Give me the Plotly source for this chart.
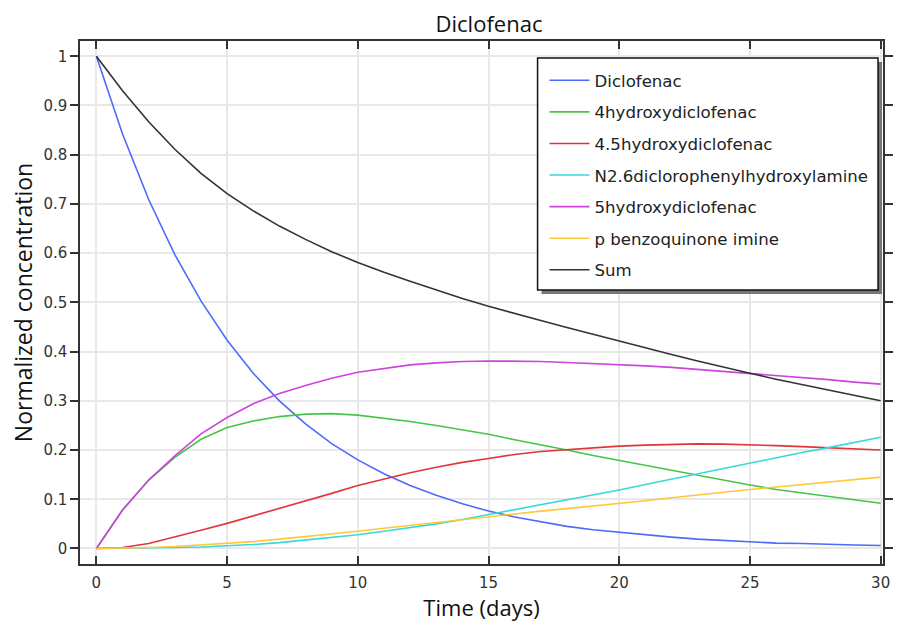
import plotly.graph_objects as go

days = list(range(0, 31))

diclofenac = [1.000, 0.842, 0.709, 0.597, 0.503, 0.423, 0.356, 0.300, 0.253, 0.213,
              0.180, 0.152, 0.128, 0.108, 0.091, 0.076, 0.064, 0.054, 0.045, 0.038,
              0.033, 0.027, 0.023, 0.019, 0.016, 0.014, 0.011, 0.010, 0.008, 0.007, 0.006]
hydroxy4 = [0.000, 0.078, 0.139, 0.185, 0.222, 0.246, 0.259, 0.268, 0.273, 0.274,
            0.271, 0.265, 0.258, 0.250, 0.241, 0.232, 0.221, 0.211, 0.200, 0.189,
            0.179, 0.168, 0.158, 0.148, 0.138, 0.129, 0.120, 0.113, 0.106, 0.099, 0.092]
hydroxy45 = [0.000, 0.002, 0.010, 0.023, 0.037, 0.051, 0.066, 0.081, 0.097, 0.112,
             0.128, 0.141, 0.154, 0.165, 0.175, 0.183, 0.191, 0.197, 0.201, 0.205,
             0.208, 0.210, 0.212, 0.2125, 0.212, 0.211, 0.209, 0.207, 0.205, 0.202, 0.200]
n26 = [0.000, 0.0002, 0.001, 0.002, 0.003, 0.005, 0.008, 0.012, 0.017, 0.022,
       0.028, 0.035, 0.042, 0.050, 0.059, 0.069, 0.078, 0.088, 0.098, 0.108,
       0.119, 0.130, 0.141, 0.152, 0.163, 0.174, 0.184, 0.195, 0.205, 0.216, 0.226]
hydroxy5 = [0.000, 0.078, 0.139, 0.188, 0.233, 0.266, 0.294, 0.315, 0.331, 0.346,
            0.358, 0.366, 0.373, 0.377, 0.380, 0.381, 0.381, 0.380, 0.378, 0.376,
            0.374, 0.371, 0.368, 0.364, 0.360, 0.356, 0.352, 0.347, 0.343, 0.338, 0.334]
pbenzo = [0.000, 0.0005, 0.002, 0.004, 0.007, 0.010, 0.014, 0.019, 0.024, 0.030,
          0.035, 0.041, 0.047, 0.053, 0.059, 0.065, 0.070, 0.076, 0.081, 0.086,
          0.092, 0.097, 0.103, 0.109, 0.114, 0.120, 0.125, 0.130, 0.135, 0.140, 0.145]
total = [1.000, 0.930, 0.867, 0.811, 0.762, 0.721, 0.686, 0.655, 0.628, 0.603,
         0.581, 0.561, 0.543, 0.525, 0.508, 0.492, 0.477, 0.463, 0.449, 0.435,
         0.421, 0.408, 0.394, 0.381, 0.368, 0.356, 0.344, 0.333, 0.322, 0.311, 0.300]

names = ["Diclofenac", "4hydroxydiclofenac", "4.5hydroxydiclofenac",
         "N2.6diclorophenylhydroxylamine", "5hydroxydiclofenac",
         "p benzoquinone imine", "Sum"]
series = [diclofenac, hydroxy4, hydroxy45, n26, hydroxy5, pbenzo, total]
colors = ["#4d6bfa", "#48c448", "#e3343a", "#36d8d8", "#cc44dd", "#ffc83a", "#333333"]

fig = go.Figure()
for i, (n, s, c) in enumerate(zip(names, series, colors)):
    fig.add_trace(go.Scatter(x=days, y=s, mode="lines", name=n,
                             line=dict(color=c, width=1.6), legendgroup=f"g{i}"))

W, H = 905, 625
L, R, T, B = 80, 889, 41, 564

def px(xp):
    return (xp - L) / (R - L)

def py(yp):
    return (B - yp) / (B - T)

# legend shadow and frame
fig.add_shape(type="rect", xref="paper", yref="paper",
              x0=px(545), x1=px(888), y0=py(294), y1=py(62),
              fillcolor="#777777", line=dict(width=0), layer="above")
fig.add_shape(type="rect", xref="paper", yref="paper",
              x0=px(541), x1=px(884), y0=py(290), y1=py(58),
              fillcolor="white", line=dict(color="#111111", width=1.5), layer="above")

axis_common = dict(showline=True, linecolor="#333333", linewidth=1.5, mirror="ticks",
                   showgrid=True, gridcolor="#e8e8e8", gridwidth=1.5,
                   zeroline=False, tickcolor="#333333", ticklen=8, tickwidth=1.5,
                   tickfont=dict(family="DejaVu Sans", size=15, color="#333333"))

fig.update_layout(
    width=W, height=H,
    margin=dict(l=L, r=W - R, t=T, b=H - B),
    paper_bgcolor="white", plot_bgcolor="white",
    title=dict(text="Diclofenac", x=489 / W, xanchor="center", y=1 - 24 / H, yanchor="middle",
               font=dict(family="Open Sans", size=22, color="#111111")),
    xaxis=dict(range=[-0.627, 30.09], tick0=0, dtick=5, ticks="inside",
               ticklabelstandoff=4,
               title=dict(text="Time (days)", standoff=0,
                          font=dict(family="Open Sans", size=22, color="#111111")),
               **axis_common),
    yaxis=dict(range=[-0.0315, 1.031], tick0=0, dtick=0.1, ticks="outside",
               title=dict(text="Normalized concentration", standoff=4,
                          font=dict(family="Open Sans", size=23, color="#111111")),
               **axis_common),
    legend=dict(x=px(548), y=py(63), xanchor="left", yanchor="top",
                bgcolor="rgba(0,0,0,0)", borderwidth=0,
                font=dict(family="DejaVu Sans", size=16.6, color="#222222"),
                tracegroupgap=7, itemwidth=40),
    showlegend=True,
)

fig.write_html("out.html")
